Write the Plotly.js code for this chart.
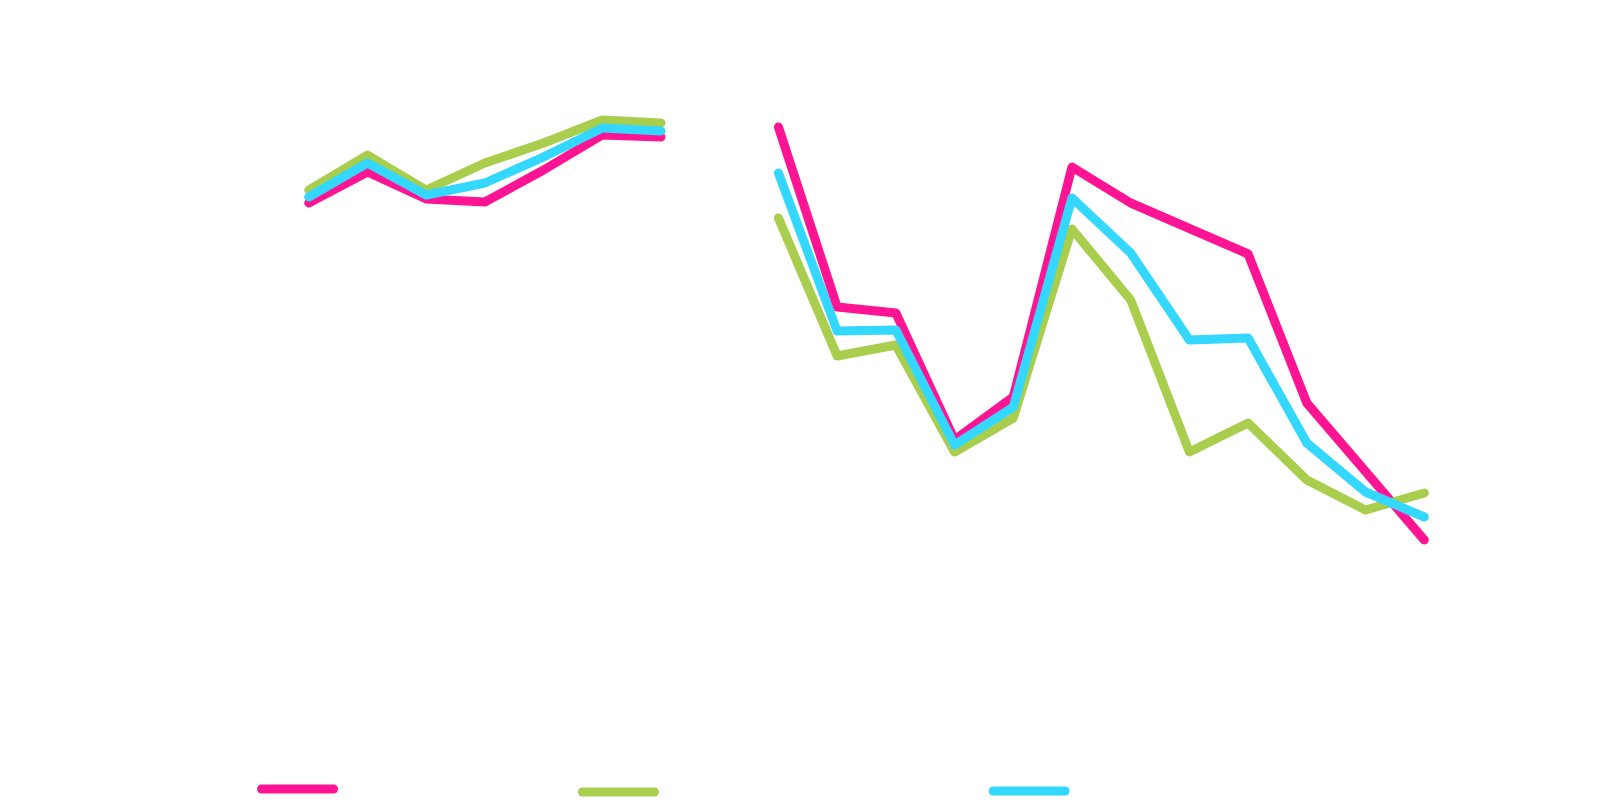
<!DOCTYPE html>
<html>
<head>
<meta charset="utf-8">
<script src="https://cdn.plot.ly/plotly-3.0.1.min.js"></script>
<style>
  html, body { margin: 0; padding: 0; background: #ffffff; }
  #plot { width: 1600px; height: 800px; }
  /* rounded ends like the original strokes */
  #plot .js-line { stroke-linecap: round; stroke-linejoin: round; }
  #plot .legendlines path { stroke-width: 9px !important; }
</style>
</head>
<body>
<div id="plot"></div>
<script>
// x positions (one gap at period 8)
var periods = [1, 2, 3, 4, 5, 6, 7, 8, 9, 10, 11, 12, 13, 14, 15, 16, 17, 18, 19, 20];

// values (0-100 scale, axis labels are not shown)
var pinkValues  = [79.4, 85.6, 80.2, 79.6, 86.0, 93.0, 92.6, null,
                   94.6, 58.6, 57.4, 32.0, 40.6, 86.6, 79.4, 74.4, 69.2, 39.4, 25.6, 12.0];
var greenValues = [82.0, 89.0, 82.0, 87.4, 91.4, 96.0, 95.4, null,
                   76.4, 48.8, 51.0, 29.6, 36.4, 74.2, 60.0, 29.6, 35.4, 24.0, 18.0, 21.4];
var cyanValues  = [80.6, 87.4, 81.0, 83.4, 88.6, 94.4, 93.8, null,
                   85.4, 53.8, 54.0, 31.0, 38.6, 80.4, 69.4, 52.0, 52.4, 31.4, 21.6, 16.6];

var seriesNames = ["Series A", "Series B", "Series C"];

var pinkTrace = {
  x: periods,
  y: pinkValues,
  name: seriesNames[0],
  type: "scatter",
  mode: "lines",
  line: { color: "#FF1493", width: 9 },
  legend: "legend"
};

var greenTrace = {
  x: periods,
  y: greenValues,
  name: seriesNames[1],
  type: "scatter",
  mode: "lines",
  line: { color: "#A9CD4C", width: 9 },
  legend: "legend2"
};

var cyanTrace = {
  x: periods,
  y: cyanValues,
  name: seriesNames[2],
  type: "scatter",
  mode: "lines",
  line: { color: "#33D7FF", width: 9 },
  legend: "legend3"
};

var data = [pinkTrace, greenTrace, cyanTrace];

// one legend per series so each swatch sits where the picture has it
function legendAt(x, y) {
  return {
    orientation: "h",
    x: x,
    y: y,
    xanchor: "left",
    yanchor: "middle",
    itemwidth: 72,
    bgcolor: "rgba(0,0,0,0)",
    font: { family: "Open Sans", size: 8, color: "#ffffff" }
  };
}

var layout = {
  width: 1600,
  height: 800,
  // fixed margins: the bottom legends must not squeeze the plot
  margin: { l: 297, r: 164, t: 100, b: 200, autoexpand: false },
  paper_bgcolor: "#ffffff",
  plot_bgcolor: "#ffffff",
  showlegend: true,
  legend: legendAt(-0.0355, -0.378),
  legend2: legendAt(0.2462, -0.384),
  legend3: legendAt(0.6068, -0.382),
  xaxis: {
    range: [0.8, 20.2],
    showgrid: false,
    zeroline: false,
    showline: false,
    showticklabels: false,
    ticks: ""
  },
  yaxis: {
    range: [0, 100],
    showgrid: false,
    zeroline: false,
    showline: false,
    showticklabels: false,
    ticks: ""
  }
};

Plotly.newPlot("plot", data, layout, { displayModeBar: false });
</script>
</body>
</html>
